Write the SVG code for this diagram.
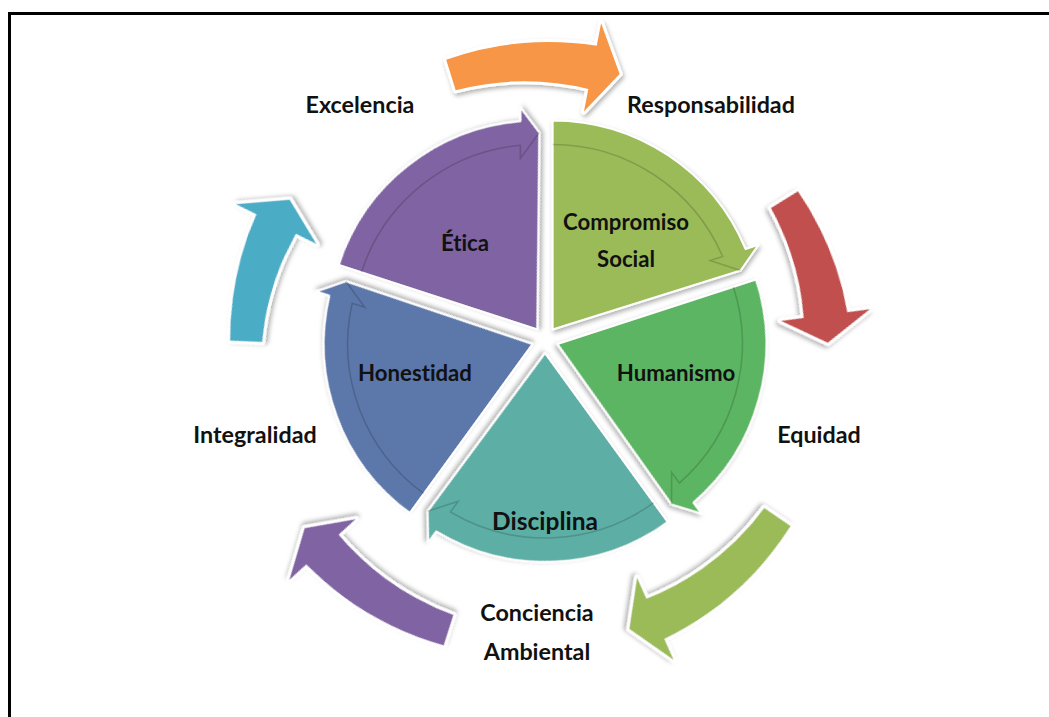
<svg xmlns="http://www.w3.org/2000/svg" xmlns:xlink="http://www.w3.org/1999/xlink" width="1049" height="717" viewBox="0 0 1049 717">
  <style>
    .lbl { font-family: Lato, "Liberation Sans", sans-serif; font-weight: 700; fill: #111; text-anchor: middle; font-variant-ligatures: none; }
    .outer { font-size: 23.3px; }
    .inner { font-size: 22.2px; }
    .seg { stroke: #fff; stroke-width: 2; stroke-linejoin: round; filter: url(#sh); }
    .band { fill: none; stroke: #000; stroke-opacity: 0.16; stroke-width: 1.6; }
    .arr { stroke: #fff; stroke-width: 6; stroke-linejoin: round; paint-order: stroke; filter: url(#sh); }
  </style>
  <defs>
    <filter id="sh" x="-20%" y="-20%" width="140%" height="140%">
      <feDropShadow dx="1.5" dy="2.5" stdDeviation="2" flood-color="#000" flood-opacity="0.3"/>
    </filter>
    <!-- pie sector spanning 0..72 degrees with an arrowhead at its clockwise end -->
    <path id="seg" d="M0,0 L0,-209 A209,209 0 0 1 192.84,-80.55 L205.89,-84.77 L187.98,-58.97 Z"/>
    <path id="band" d="M0,-185 A185,185 0 0 1 169.94,-73.09 L157.39,-69.01 L187.98,-58.97"/>
  </defs>

  <rect x="9.5" y="13.5" width="1100" height="800" fill="#fff" stroke="#000" stroke-width="3"/>

  <!-- curved arrows around the ring -->
  <g id="connectors">
    <path class="arr" fill="#F79646" transform="translate(537,353) rotate(0)"
          d="M-90.78,-293.28 A310,310 0 0 1 59.72,-307.24 L64.11,-329.82 L82.64,-279.01 L46.94,-241.47 L51.33,-264.05 A272,272 0 0 0 -81.32,-262.71 Z"/>
    <path class="arr" fill="#C0504D" transform="translate(537,353) rotate(71.5)"
          d="M-70.61,-298.77 A310,310 0 0 1 59.72,-307.24 L64.11,-329.82 L82.64,-279.01 L46.94,-241.47 L51.33,-264.05 A272,272 0 0 0 -63.25,-267.63 Z"/>
    <path class="arr" fill="#9BBB59" transform="translate(537,353) rotate(145)"
          d="M-108.52,-287.17 A310,310 0 0 1 59.72,-307.24 L64.11,-329.82 L82.64,-279.01 L46.94,-241.47 L51.33,-264.05 A272,272 0 0 0 -97.21,-257.24 Z"/>
    <path class="arr" fill="#8064A2" transform="translate(537,353) rotate(216.5)"
          d="M-98.95,-290.61 A310,310 0 0 1 59.72,-307.24 L64.11,-329.82 L82.64,-279.01 L46.94,-241.47 L51.33,-264.05 A272,272 0 0 0 -88.63,-260.32 Z"/>
    <path class="arr" fill="#4BACC6" transform="translate(537,353) rotate(285.3)"
          d="M-69.08,-299.14 A310,310 0 0 1 59.72,-307.24 L64.11,-329.82 L82.64,-279.01 L46.94,-241.47 L51.33,-264.05 A272,272 0 0 0 -61.88,-267.96 Z"/>
  </g>

  <!-- pie segments -->
  <g id="node-compromiso">
    <g transform="translate(545,340) rotate(0) translate(7.64,-10.52)">
      <use xlink:href="#seg" class="seg" fill="#9BBB59"/>
      <use xlink:href="#band" class="band"/>
    </g>
    <text class="lbl inner" x="626" y="230">Compromiso</text>
    <text class="lbl inner" x="626" y="267">Social</text>
  </g>
  <g id="node-humanismo">
    <g transform="translate(545,340) rotate(72) translate(7.64,-10.52)">
      <use xlink:href="#seg" class="seg" fill="#5BB562"/>
      <use xlink:href="#band" class="band"/>
    </g>
    <text class="lbl inner" x="676" y="381">Humanismo</text>
  </g>
  <g id="node-disciplina">
    <g transform="translate(545,340) rotate(144) translate(7.64,-10.52)">
      <use xlink:href="#seg" class="seg" fill="#5DAFA5"/>
      <use xlink:href="#band" class="band"/>
    </g>
    <text class="lbl" x="545" y="530" font-size="24.5">Disciplina</text>
  </g>
  <g id="node-honestidad">
    <g transform="translate(545,340) rotate(216) translate(7.64,-10.52)">
      <use xlink:href="#seg" class="seg" fill="#5B77AA"/>
      <use xlink:href="#band" class="band"/>
    </g>
    <text class="lbl inner" x="415" y="381">Honestidad</text>
  </g>
  <g id="node-etica">
    <g transform="translate(545,340) rotate(288) translate(7.64,-10.52)">
      <use xlink:href="#seg" class="seg" fill="#7F64A2"/>
      <use xlink:href="#band" class="band"/>
    </g>
    <text class="lbl inner" x="465" y="251">Ética</text>
  </g>

  <!-- values around the ring -->
  <g id="node-responsabilidad"><text class="lbl outer" x="711" y="113">Responsabilidad</text></g>
  <g id="node-equidad"><text class="lbl outer" x="819" y="443">Equidad</text></g>
  <g id="node-conciencia"><text class="lbl outer" x="537" y="621">Conciencia</text><text class="lbl outer" x="537" y="660">Ambiental</text></g>
  <g id="node-integralidad"><text class="lbl outer" x="255" y="443">Integralidad</text></g>
  <g id="node-excelencia"><text class="lbl outer" x="360" y="113">Excelencia</text></g>
</svg>
